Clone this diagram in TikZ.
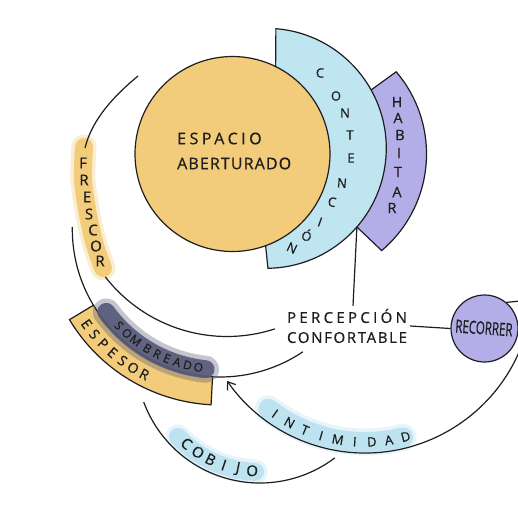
\documentclass[tikz,border=0pt]{standalone}
\usepackage{fontspec}
\setmainfont{Open Sans}[FakeBold=0.7]
\usetikzlibrary{arrows.meta,calc}
\definecolor{yel}{HTML}{F2CC7A}
\definecolor{lblue}{HTML}{BFE5F0}
\definecolor{purp}{HTML}{B4AEE8}
\definecolor{hlblue}{HTML}{BDE3F1}
\definecolor{sombra}{HTML}{565977}
\definecolor{ink}{HTML}{1E1E1E}
\tikzset{
  outl/.style={draw=ink, line width=1.2pt},
  conn/.style={draw=ink, line width=1.2pt},
  lett/.style={inner sep=0pt, text=ink, font=\fontsize{#1}{#1}\selectfont},
  lett/.default=13,
  soft/.style={line cap=round, opacity=.35},
  hard/.style={line cap=round},
}
\begin{document}
\begin{tikzpicture}[x=1pt,y=1pt]
\useasboundingbox (0,0) rectangle (518,-519);
\fill[white] (0,0) rectangle (518,-519);
\clip (0,0) rectangle (518,-519);

% centres of the arcs
\coordinate (cB) at (266.3,-148.3);
\coordinate (cE) at (220.3,-229);
\coordinate (cC) at (227,-182.5);
\coordinate (cI) at (365,-285);
\coordinate (cO) at (260,-359);

% HABITAR band
\path[fill=purp, outl] (396.2,-71.8) arc[start angle=40.5, end angle=-49.8, radius=126.5]
   -- (356.9,-227) coordinate (habB) -- (330,-150) -- (371.2,-89.9) -- cycle;
% CONTENCION band
\path[fill=lblue, outl] (275.9,-28.7) arc[start angle=85.4, end angle=-89.2, radius=120]
   -- (265,-240) -- (255,-154) -- (275.5,-80) -- cycle;
% ESPACIO ABERTURADO
\node[circle, fill=yel, outl, minimum size=195pt, inner sep=0pt] (esp) at (232.5,-154) {};
\node[align=left, anchor=west, font=\fontsize{16}{25}\selectfont, inner sep=0pt, text=ink] (espt) at (177,-151)
  {{\addfontfeature{LetterSpace=22}ESPACIO}\\{\addfontfeature{LetterSpace=7}ABERTURADO}};

\foreach \l/\x/\y/\r [count=\i] in {C/320/73/0, O/336/96/0, N/345/113/0, T/350/135/0, E/351/158/0, N/342/183/-5, C/332/202/-10, I/320/222/-20, Ó/307/235/-20, N/292/248/-25}
  \node[lett=13, rotate=\r] (con\i) at (\x,-\y) {\l};
\foreach \l/\x/\y [count=\i] in {H/397/102, A/398/118, B/400/135, I/399/153, T/398/172, A/397/192, R/392/208}
  \node[lett=14.5] (hab\i) at (\x,-\y) {\l};

% FRESCOR
\draw[yel, soft, line width=25pt] plot[smooth] coordinates {(84,-147) (83,-180) (88,-215) (95,-245) (103,-268)};
\draw[yel, hard, line width=18pt] plot[smooth] coordinates {(84,-147) (83,-180) (88,-215) (95,-245) (103,-268)};
\foreach \l/\x/\y [count=\i] in {F/83/163, R/84/180, E/87/197, S/89/214, C/93/230, O/96/246, R/100/261}
  \node[lett=15] (fre\i) at (\x,-\y) {\l};

\coordinate (aS) at (138,-76);
\coordinate (aE) at (85,-148);
\draw[conn] (aS) .. controls (115,-95) and (92,-119) .. (aE);
\coordinate (cS) at ($(cC)+(-142.2:154)$);
\draw[conn] (cS) arc[start angle=-142.2, end angle=-71.9, radius=154];
\coordinate (bS) at ($(cE)+(179.2:148)$);
\draw[conn] (bS) arc[start angle=179.2, end angle=303.9, radius=148];

% ESPESOR band
\path[fill=yel, outl] ($(cE)+(211:148)$) arc[start angle=211, end angle=267, radius=148]
   -- ($(cE)+(267:176)$) arc[start angle=267, end angle=211, radius=176] -- cycle;
\foreach \l [count=\i] in {E,S,P,E,S,O,R} {
  \pgfmathsetmacro\a{215.4+(\i-1)*4.5}
  \node[lett=14, rotate=\a+90] (esp\i) at ($(cE)+(\a:164)$) {\l};
}
% SOMBREADO
\draw[sombra, soft, line width=27pt] ($(cE)+(216:141)$) arc[start angle=216, end angle=264, radius=141];
\draw[sombra, hard, line width=18pt, opacity=.9] ($(cE)+(216:141)$) arc[start angle=216, end angle=264, radius=141];
\foreach \l/\a [count=\i] in {S/223.6, O/228.2, M/232.8, B/238.6, R/243.2, E/247.6, A/252, D/256.5, O/261}
  \node[lett=12, rotate=\a+90] (som\i) at ($(cE)+(\a:140)$) {\l};

% INTIMIDAD
\draw[hlblue, soft, line width=27pt] ($(cI)+(-128:157)$) arc[start angle=-128, end angle=-76, radius=157];
\draw[hlblue, hard, line width=20pt] ($(cI)+(-128:157)$) arc[start angle=-128, end angle=-76, radius=157];
\foreach \l [count=\i] in {I,N,T,I,M,I,D,A,D} {
  \pgfmathsetmacro\a{-125+(\i-1)*6.25}
  \node[lett=13, rotate=\a+90] (int\i) at ($(cI)+(\a:157)$) {\l};
}
% COBIJO
\draw[hlblue, soft, line width=25pt] ($(cO)+(-136.5:113)$) arc[start angle=-136.5, end angle=-92.5, radius=113];
\draw[hlblue, hard, line width=18pt] ($(cO)+(-136.5:113)$) arc[start angle=-136.5, end angle=-92.5, radius=113];
\foreach \l [count=\i] in {C,O,B,I,J,O} {
  \pgfmathsetmacro\a{-131+(\i-1)*7.4}
  \node[lett=15, rotate=\a+90] (cob\i) at ($(cO)+(\a:112)$) {\l};
}

% nodes
\node[align=center, font=\fontsize{15}{20}\selectfont, text=ink, inner sep=3pt] (perc) at (347,-326)
  {{\addfontfeature{LetterSpace=22}PERCEPCIÓN}\\{\addfontfeature{LetterSpace=11}CONFORTABLE}};
\node[circle, fill=purp, outl, minimum size=67pt, inner sep=0pt] (rec) at (484.5,-328.5) {};
\node[rotate=-4, inner sep=0pt, text=ink, font=\fontsize{18}{18}\selectfont] (rect) at (484,-328) {\scalebox{0.64}[1]{RECORRER}};

% connectors
\coordinate (iS) at ($(cI)+(-12:168)$);
\draw[conn, -{Straight Barb[length=7pt, width=10pt]}] (iS) arc[start angle=-12, end angle=-145.2, radius=168] coordinate (iE);
\coordinate (oS) at ($(cO)+(-159.7:124)$);
\draw[conn] (oS) arc[start angle=-159.7, end angle=-52.9, radius=124] coordinate (oE);
\draw[conn] (habB) -- ([xshift=6pt]perc.north);
\draw[conn] (perc.east) -- (rec.west);
\coordinate (recR) at (525,-300.5);
\draw[conn] (rec.50) -- (recR);
\end{tikzpicture}
\end{document}
